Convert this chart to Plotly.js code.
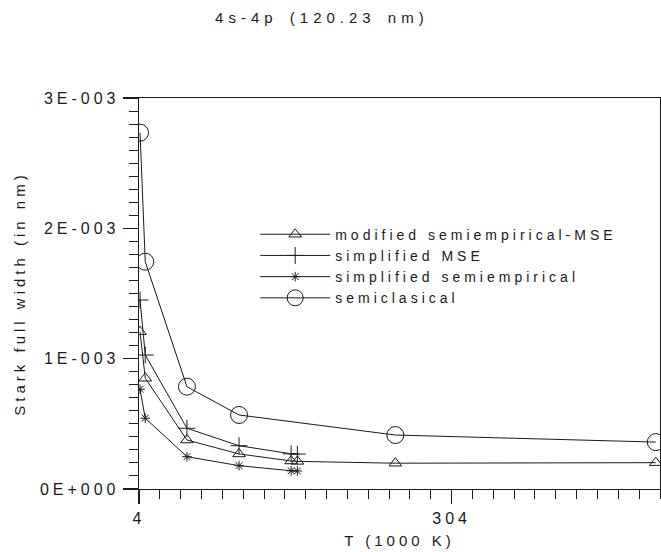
<!DOCTYPE html>
<html>
<head>
<meta charset="utf-8">
<script src="https://cdn.plot.ly/plotly-3.0.1.min.js"></script>
<style>
  html, body { margin: 0; padding: 0; background: #fff; }
  #chart { width: 661px; height: 552px; }
  svg text { letter-spacing: 4px; }
  svg text.gtitle { letter-spacing: 5px; word-spacing: 3px; }
</style>
</head>
<body>
<div id="chart"></div>
<script>
// Data (y in nm, T in 1000 K)
const seriesNames = [
  "modified semiempirical-MSE",
  "simplified MSE",
  "simplified semiempirical",
  "semiclasical"
];
const tModSemiMSE = [5, 10, 50, 100, 150, 156, 250, 500];
const wModSemiMSE = [0.001207, 0.000850, 0.000376, 0.000269, 0.000215, 0.000212, 0.000198, 0.000202];

const tSimpMSE = [5, 10, 50, 100, 150, 156];
const wSimpMSE = [0.001450, 0.001028, 0.000466, 0.000332, 0.000270, 0.000268];

const tSimpSemi = [5, 10, 50, 100, 150, 156];
const wSimpSemi = [0.000765, 0.000543, 0.000248, 0.000179, 0.000140, 0.000138];

const tSemiclass = [5, 10, 50, 100, 250, 500];
const wSemiclass = [0.002734, 0.001744, 0.000785, 0.000568, 0.000414, 0.000360];

const xTickVals = [4, 304];
const xTickText = ["4", "304"];
const yTickVals = [0, 0.001, 0.002, 0.003];
const yTickText = ["0E+000", "1E-003", "2E-003", "3E-003"];

const ink = "#1a1a1a";
const font = "Liberation Sans, Arial, sans-serif";

function mk(name, x, y, symbol, size) {
  return {
    type: "scatter",
    mode: "lines+markers",
    name: name,
    x: x,
    y: y,
    line: { color: ink, width: 1 },
    marker: { symbol: symbol, size: size, color: ink, line: { color: ink, width: 1 } }
  };
}

const traces = [
  mk(seriesNames[0], tModSemiMSE, wModSemiMSE, "triangle-up-open", 11),
  mk(seriesNames[1], tSimpMSE, wSimpMSE, "cross-thin-open", 12),
  mk(seriesNames[2], tSimpSemi, wSimpSemi, "asterisk-open", 8),
  mk(seriesNames[3], tSemiclass, wSemiclass, "circle-open", 17)
];

const layout = {
  width: 661,
  height: 552,
  margin: { l: 139, r: 1, t: 98, b: 63 },
  paper_bgcolor: "#fff",
  plot_bgcolor: "#fff",
  font: { family: font, size: 16, color: ink },
  title: {
    text: "4s-4p (120.23 nm)",
    font: { family: font, size: 15, color: ink },
    xref: "container", x: 0.487, xanchor: "center",
    yref: "container", y: 0.967, yanchor: "middle"
  },
  showlegend: true,
  legend: {
    x: 0.223, xanchor: "left",
    y: 0.57, yanchor: "middle",
    bgcolor: "rgba(0,0,0,0)",
    borderwidth: 0,
    itemwidth: 70,
    font: { family: font, size: 14, color: ink },
    traceorder: "normal"
  },
  xaxis: {
    range: [4, 504],
    tickmode: "array",
    tickvals: xTickVals,
    ticktext: xTickText,
    ticks: "outside",
    ticklen: 14,
    tickwidth: 1.2,
    tickcolor: ink,
    minor: { tickmode: "linear", tick0: 4, dtick: 20, ticks: "outside", ticklen: 9, tickwidth: 1, tickcolor: ink, showgrid: false },
    showline: true,
    mirror: true,
    linecolor: ink,
    linewidth: 1.3,
    showgrid: false,
    zeroline: false,
    tickfont: { family: font, size: 16, color: ink },
    title: { text: "T (1000 K)", font: { family: font, size: 15, color: ink }, standoff: 10 }
  },
  yaxis: {
    range: [0, 0.003],
    tickmode: "array",
    tickvals: yTickVals,
    ticktext: yTickText,
    ticks: "outside",
    ticklen: 15,
    tickwidth: 1.2,
    tickcolor: ink,
    minor: { tickmode: "linear", tick0: 0, dtick: 0.0001, ticks: "outside", ticklen: 9, tickwidth: 1, tickcolor: ink, showgrid: false },
    showline: true,
    mirror: true,
    linecolor: ink,
    linewidth: 1.3,
    showgrid: false,
    zeroline: false,
    tickfont: { family: font, size: 16, color: ink },
    title: { text: "Stark full width (in nm)", font: { family: font, size: 15, color: ink }, standoff: 10 }
  }
};

Plotly.newPlot("chart", traces, layout, { displayModeBar: false, staticPlot: true });
</script>
</body>
</html>
